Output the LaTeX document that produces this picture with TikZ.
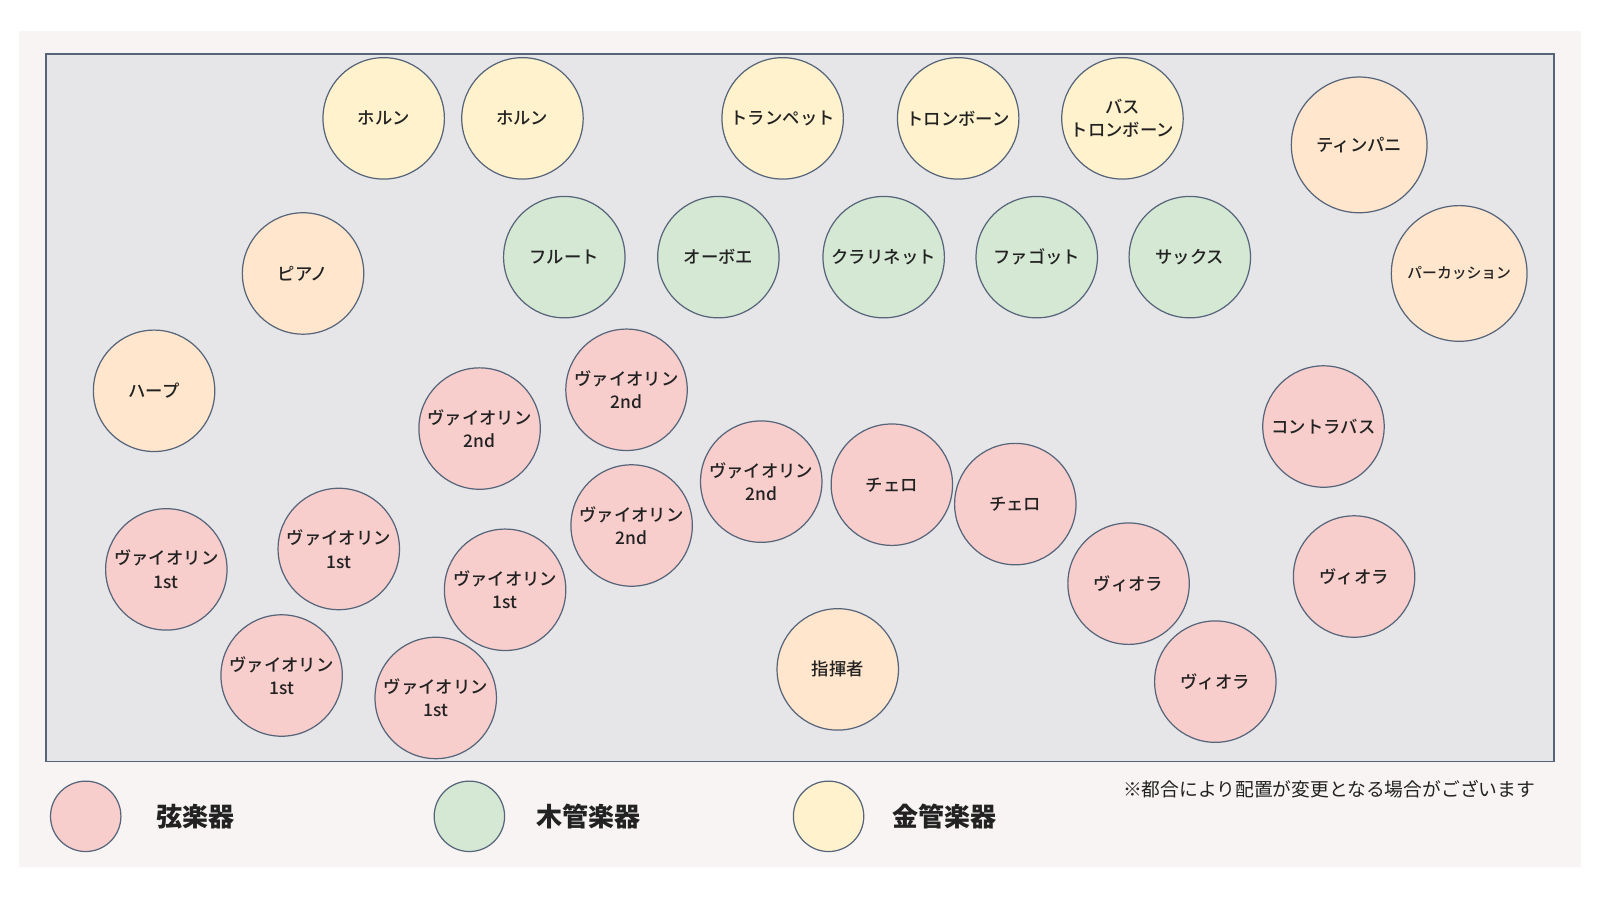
\documentclass[tikz,border=0pt]{standalone}
\usepackage{fontspec}
\setmainfont{Noto Sans CJK JP}
\newfontfamily\medfont{Noto Sans CJK JP Medium}
\definecolor{pinkc}{HTML}{F8CECC}
\definecolor{greenc}{HTML}{D5E8D4}
\definecolor{yellowc}{HTML}{FFF2CC}
\definecolor{orangec}{HTML}{FFE6CC}
\definecolor{strokec}{HTML}{56657A}
\definecolor{stagec}{HTML}{E6E6E8}
\definecolor{outerc}{HTML}{F7F4F3}
\definecolor{textc}{HTML}{222222}
\tikzset{
  seat/.style={circle, draw=strokec, line width=1.2pt, minimum size=119pt, inner sep=0pt,
    align=center, text=textc, font=\medfont\fontsize{17}{23}\selectfont},
  strs/.style={seat, fill=pinkc},
  wood/.style={seat, fill=greenc},
  brass/.style={seat, fill=yellowc},
  perc/.style={seat, fill=orangec},
  legdot/.style={circle, draw=strokec, line width=1.2pt, minimum size=69pt, inner sep=0pt},
  legtext/.style={anchor=west, text=textc, font=\fontsize{25.5}{28}\selectfont\bfseries},
}
\begin{document}
\begin{tikzpicture}[x=1pt,y=-1pt]
\useasboundingbox (0,0) rectangle (1568,882);
\fill[white] (0,0) rectangle (1568,882);
\fill[outerc] (19,30) rectangle (1549,850);
\draw[strokec, line width=1.2pt, fill=stagec] (45,53) rectangle (1523,746);

% brass
\node[brass] (hr1) at (376,116) {ホルン};
\node[brass] (hr2) at (512,116) {ホルン};
\node[brass] (tp) at (767,116) {トランペット};
\node[brass] (tb) at (939,116) {トロンボーン};
\node[brass] (btb) at (1100,116) {バス\\トロンボーン};
% percussion etc.
\node[perc, minimum size=133pt] (timp) at (1332,142) {ティンパニ};
\node[perc, minimum size=133pt, font=\medfont\fontsize{14.5}{20}\selectfont] (pc) at (1430,268) {パーカッション};
\node[perc] (pf) at (297,268) {ピアノ};
\node[perc] (hp) at (151,383) {ハープ};
\node[perc] (cond) at (821,656) {指揮者};
% woodwinds
\node[wood] (fl) at (553,252) {フルート};
\node[wood] (ob) at (704,252) {オーボエ};
\node[wood] (cl) at (866,252) {クラリネット};
\node[wood] (fg) at (1016,252) {ファゴット};
\node[wood] (sx) at (1166,252) {サックス};
% strings
\node[strs] (v2a) at (614,382) {ヴァイオリン\\2nd};
\node[strs] (v2b) at (470,420) {ヴァイオリン\\2nd};
\node[strs] (v2c) at (746,472) {ヴァイオリン\\2nd};
\node[strs] (v2d) at (619,515) {ヴァイオリン\\2nd};
\node[strs] (vc1) at (874,475) {チェロ};
\node[strs] (vc2) at (995,494) {チェロ};
\node[strs] (cb) at (1297,418) {コントラバス};
\node[strs] (va1) at (1106,572) {ヴィオラ};
\node[strs] (va2) at (1327,565) {ヴィオラ};
\node[strs] (va3) at (1191,668) {ヴィオラ};
\node[strs] (v1a) at (163,558) {ヴァイオリン\\1st};
\node[strs] (v1b) at (332,538) {ヴァイオリン\\1st};
\node[strs] (v1c) at (495,578) {ヴァイオリン\\1st};
\node[strs] (v1d) at (276,662) {ヴァイオリン\\1st};
\node[strs] (v1e) at (427,684) {ヴァイオリン\\1st};

% legend
\node[legdot, fill=pinkc] (lg1) at (84,800) {};
\node[legtext] (lt1) at (150,800) {弦楽器};
\node[legdot, fill=greenc] (lg2) at (460,800) {};
\node[legtext] (lt2) at (522,800) {木管楽器};
\node[legdot, fill=yellowc] (lg3) at (812,800) {};
\node[legtext] (lt3) at (871,800) {金管楽器};
\node[anchor=west, text=textc, font=\fontsize{18.4}{20}\selectfont] (note) at (1097,773) {※都合により配置が変更となる場合がございます};
\end{tikzpicture}
\end{document}
